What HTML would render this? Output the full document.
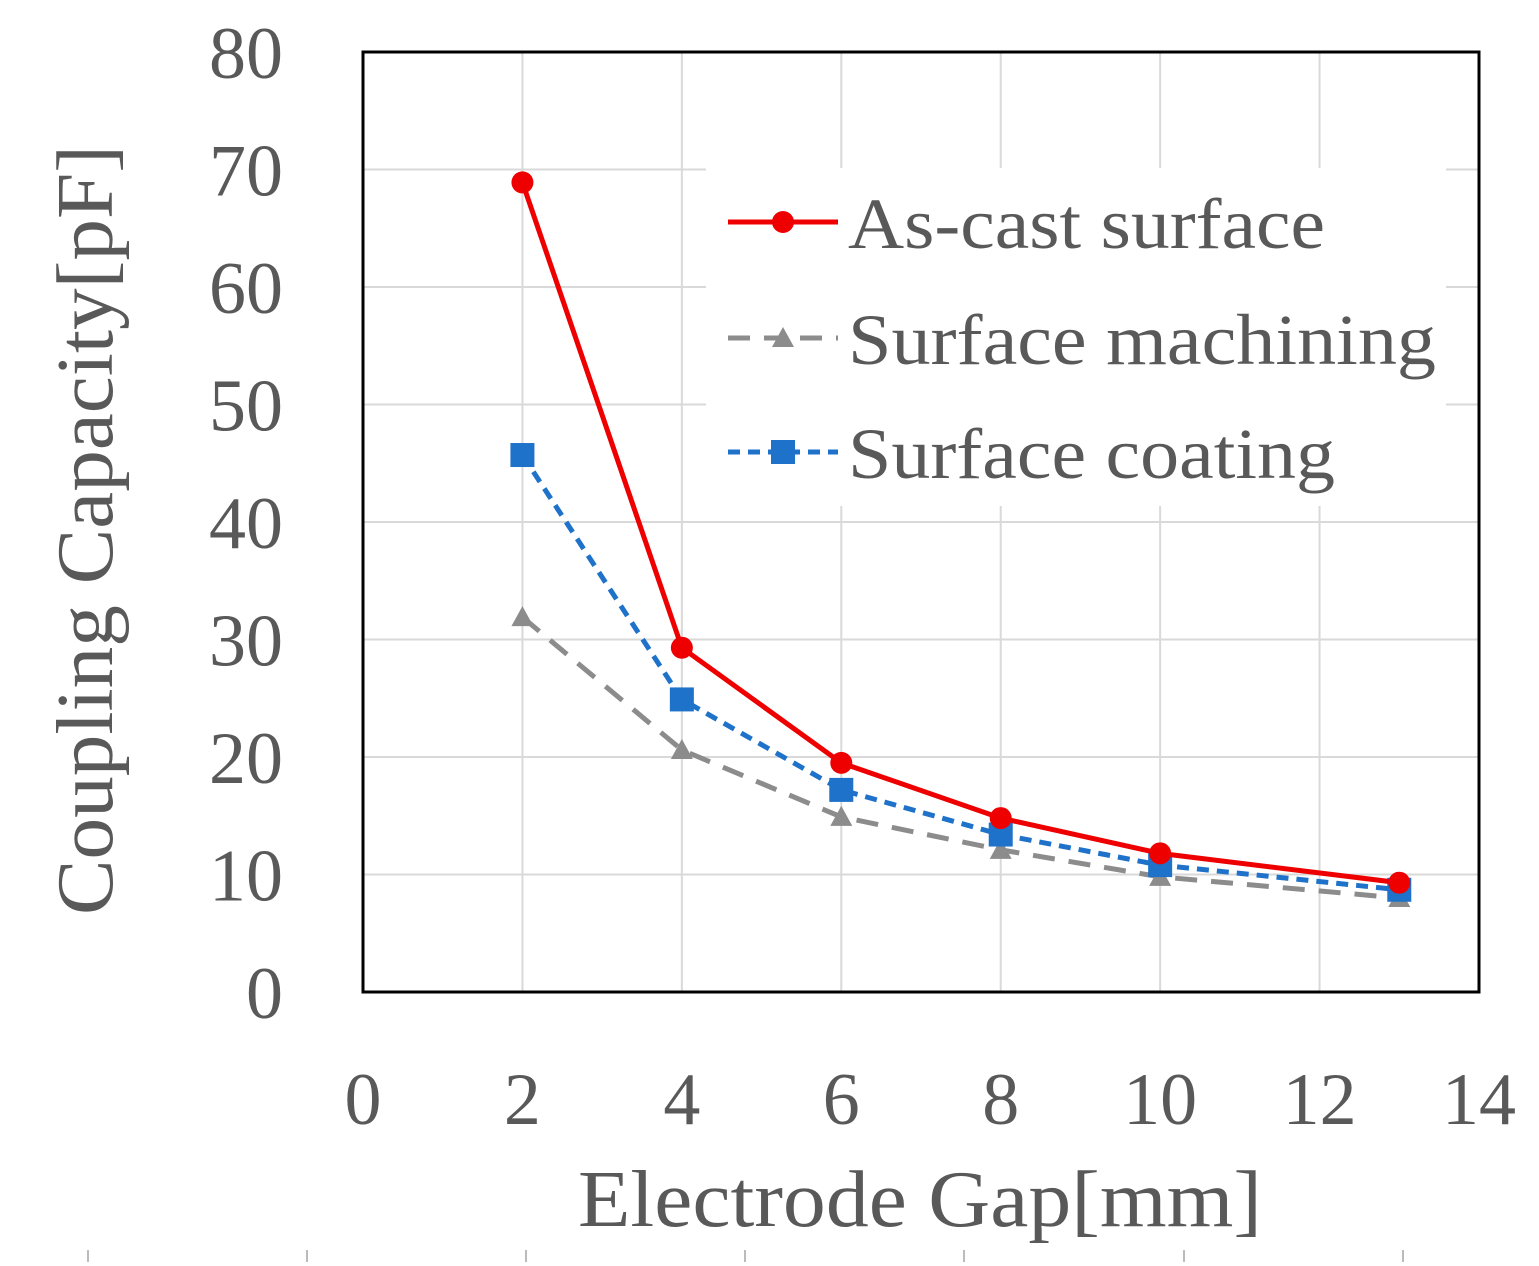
<!DOCTYPE html>
<html><head><meta charset="utf-8"><style>
html,body{margin:0;padding:0;background:#fff;}
svg{display:block;font-family:"Liberation Serif","DejaVu Serif",serif;}
</style></head><body>
<svg id="chart" width="1539" height="1266" viewBox="0 0 1539 1266" xmlns="http://www.w3.org/2000/svg">
<g id="grid"></g>
<g id="series"></g>
<rect x="363" y="52" width="1116" height="940" fill="none" stroke="#000" stroke-width="3"/>
<g id="ticks" fill="#595959" font-size="74"></g>
<text transform="translate(112,530) rotate(-90)" text-anchor="middle" fill="#595959" font-size="80" textLength="770" lengthAdjust="spacingAndGlyphs">Coupling Capacity[pF]</text>
<text x="920" y="1226" text-anchor="middle" fill="#595959" font-size="80" textLength="684" lengthAdjust="spacingAndGlyphs">Electrode Gap[mm]</text>
<g id="legend">
<rect x="706" y="168" width="740" height="338" fill="#fff"/>
</g>
<g id="bottom-marks" stroke="#bbb" stroke-width="2"></g>
</svg>
<script>
const xCats = [2, 4, 6, 8, 10, 13];
const asCast = [68.9, 29.3, 19.5, 14.8, 11.8, 9.3];
const machining = [31.9, 20.6, 14.9, 12.1, 9.8, 8.0];
const coating = [45.7, 24.9, 17.2, 13.4, 10.8, 8.7];
const xTicks = [0, 2, 4, 6, 8, 10, 12, 14];
const yTicks = [0, 10, 20, 30, 40, 50, 60, 70, 80];

const NS = "http://www.w3.org/2000/svg";
const X0 = 363, X1 = 1479, Y0 = 992, Y1 = 52;
const xs = v => X0 + (v / 14) * (X1 - X0);
const ys = v => Y0 - (v / 80) * (Y0 - Y1);
function mk(tag, attrs, parent) {
  const e = document.createElementNS(NS, tag);
  for (const k in attrs) e.setAttribute(k, attrs[k]);
  parent.appendChild(e);
  return e;
}
const grid = document.getElementById("grid");
const ticks = document.getElementById("ticks");
xTicks.forEach(t => {
  if (t > 0 && t < 14) {
    const l = mk("line", {x1: xs(t), x2: xs(t), y1: Y1, y2: Y0, stroke: "#d9d9d9", "stroke-width": 2}, grid);
    
    
  }
  const tx = mk("text", {x: xs(t), y: 1124, "text-anchor": "middle"}, ticks);
  tx.textContent = t;
  
  
});
yTicks.forEach(t => {
  if (t > 0 && t < 80) {
    const l = mk("line", {x1: X0, x2: X1, y1: ys(t), y2: ys(t), stroke: "#d9d9d9", "stroke-width": 2}, grid);
    
    
  }
  const tx = mk("text", {x: 283, y: ys(t) + 26, "text-anchor": "end"}, ticks);
  tx.textContent = t;
  
  
});
const seriesG = document.getElementById("series");
const specs = [
  {name: "machining", data: machining, color: "#8c8c8c", dash: "22 14", marker: "tri", label: "Surface machining", len: 588},
  {name: "coating", data: coating, color: "#1f72c9", dash: "12 8", marker: "sq", label: "Surface coating", len: 487},
  {name: "as-cast", data: asCast, color: "#ee0000", dash: "", marker: "circ", label: "As-cast surface", len: 477}
];
function marker(type, cx, cy, color, parent) {
  let m;
  if (type === "circ") m = mk("circle", {cx, cy, r: 11, fill: color}, parent);
  else if (type === "sq") m = mk("rect", {x: cx - 12, y: cy - 12, width: 24, height: 24, fill: color}, parent);
  else m = mk("polygon", {points: `${cx},${cy - 11} ${cx + 11},${cy + 9} ${cx - 11},${cy + 9}`, fill: color}, parent);
  return m;
}
specs.forEach(s => {
  const pts = s.data.map((v, i) => xs(xCats[i]) + "," + ys(v)).join(" ");
  const pl = mk("polyline", {points: pts, fill: "none", stroke: s.color, "stroke-width": 5, "stroke-dasharray": s.dash}, seriesG);
  
  
  s.data.forEach((v, i) => {
    const m = marker(s.marker, xs(xCats[i]), ys(v), s.color, seriesG);
    
    
  });
});
const leg = document.getElementById("legend");
const legOrder = [specs[2], specs[0], specs[1]];
const legY = [222, 338, 452];
legOrder.forEach((s, i) => {
  const y = legY[i];
  const l = mk("line", {x1: 728, x2: 838, y1: y, y2: y, stroke: s.color, "stroke-width": 5, "stroke-dasharray": s.dash}, leg);
  
  
  const m = marker(s.marker, 783, y, s.color, leg);
  
  
  const t = mk("text", {x: 848, y: y + 26, fill: "#595959", "font-size": 72, textLength: s.len, lengthAdjust: "spacingAndGlyphs"}, leg);
  t.textContent = s.label;
  
  
});
const bm = document.getElementById("bottom-marks");
[88, 307, 526, 745, 964, 1184, 1403].forEach(x => {
  const l = mk("line", {x1: x, x2: x, y1: 1250, y2: 1262}, bm);
  
  
});
</script>
</body></html>
